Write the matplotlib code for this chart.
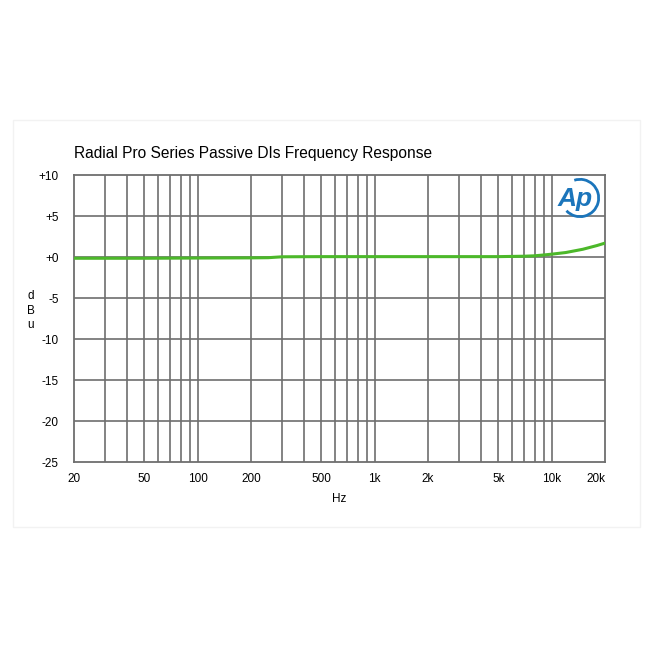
import numpy as np
import matplotlib
matplotlib.use('Agg')
import matplotlib.pyplot as plt
import matplotlib.transforms as mtransforms
from matplotlib.patches import Rectangle, Arc

plt.rcParams['font.family'] = ['Liberation Sans', 'DejaVu Sans']

# response curve
freq = [20, 50, 100, 200, 250, 300, 500, 1000, 2000, 5000, 7000, 8000, 9000, 10000, 12000, 15000, 18000, 20000]
dbu = [-0.15, -0.15, -0.12, -0.1, -0.08, 0.03, 0.05, 0.05, 0.05, 0.05, 0.1, 0.15, 0.25, 0.35, 0.55, 0.95, 1.4, 1.7]

xticks = [20, 50, 100, 200, 500, 1000, 2000, 5000, 10000, 20000]
xlabels = ['20', '50', '100', '200', '500', '1k', '2k', '5k', '10k', '20k']
yticks = [10, 5, 0, -5, -10, -15, -20, -25]
ylabels = ['+10', '+5', '+0', '-5', '-10', '-15', '-20', '-25']

fig = plt.figure(figsize=(6.5, 6.5), dpi=100)
fig.patches.append(Rectangle((0.02, 0.189), 0.965, 0.626, transform=fig.transFigure,
                             facecolor='white', edgecolor='#f2f2f2', lw=1, zorder=-5))
ax = fig.add_axes([0.1138, 0.2892, 0.817, 0.4415])

gc = '#6e6e6e'
ax.set_xscale('log')
ax.set_xlim(20, 20000)
ax.set_ylim(-25, 10)

# log grid: every 1-2-3...9 step
minor = []
for d in [10, 100, 1000, 10000]:
    for m in range(1, 10):
        f = d * m
        if 20 < f < 20000:
            minor.append(f)
for f in minor:
    ax.axvline(f, color=gc, lw=1.2, zorder=1)
for y in yticks[1:-1]:
    ax.axhline(y, color=gc, lw=1.2, zorder=1)
for s in ax.spines.values():
    s.set_color(gc)
    s.set_linewidth(1.3)

ax.plot(freq, dbu, color='#4cb82a', lw=2.2, zorder=3)

ax.set_xticks(xticks)
ax.set_xticklabels(xlabels, fontsize=8.5)
ax.xaxis.set_minor_locator(matplotlib.ticker.NullLocator())
ax.set_yticks(yticks)
ax.set_yticklabels(ylabels, fontsize=8.5)
ax.tick_params(length=0)
ax.tick_params(axis='x', pad=8)
ax.tick_params(axis='y', pad=11)
# last label sits a bit inside
lab = ax.get_xticklabels()[-1]
lab.set_transform(lab.get_transform() + mtransforms.ScaledTranslation(-0.09, 0, fig.dpi_scale_trans))

ax.set_xlabel('Hz', fontsize=8.5, labelpad=6)
fig.text(0.047, 0.522, 'd\nB\nu', fontsize=8.5, ha='center', va='center', linespacing=1.25)
fig.text(0.1138, 0.753, 'Radial Pro Series Passive DIs Frequency Response', fontsize=11.2, ha='left', va='bottom')

# Ap logo
ax.text(0.943, 0.915, 'Ap', transform=ax.transAxes, fontsize=19, fontstyle='italic',
        fontweight='bold', color='#1b75bb', ha='center', va='center', zorder=4)
ax.add_patch(Arc((0.953, 0.92), 0.07, 0.13, theta1=-120, theta2=100, transform=ax.transAxes,
                 color='#1b75bb', lw=2.0, zorder=4))

fig.savefig('out.png', dpi=100, facecolor='white')
